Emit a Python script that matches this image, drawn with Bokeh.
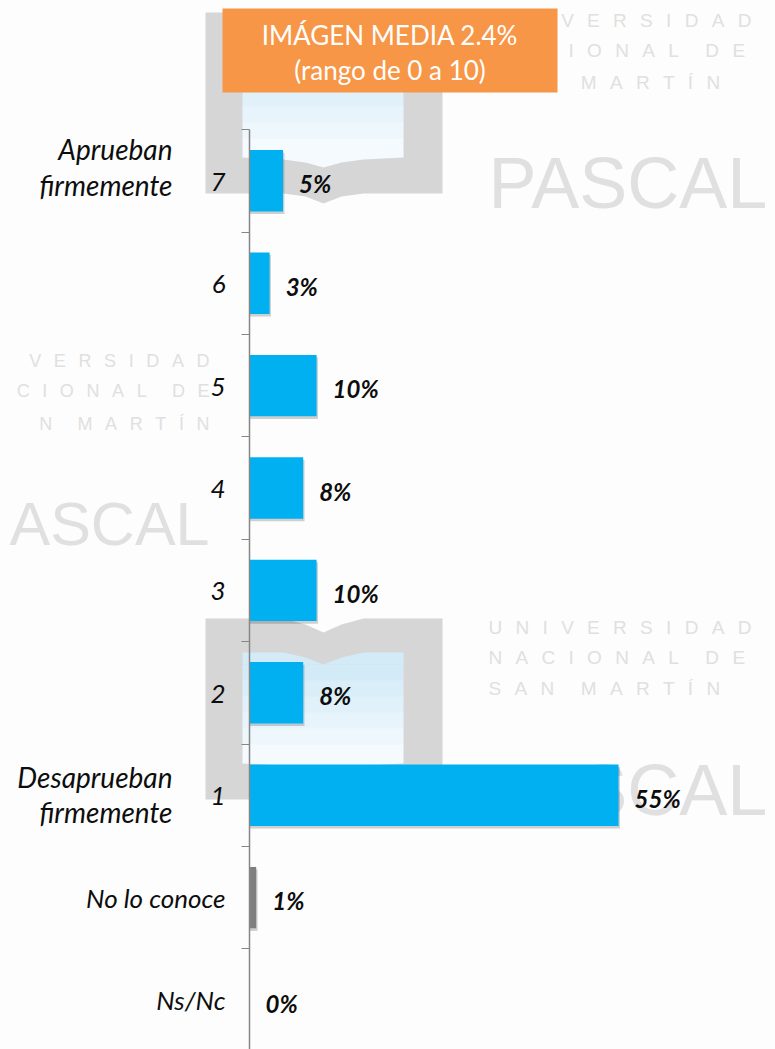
from bokeh.plotting import figure
from bokeh.models import Range1d, FixedTicker, ColumnDataSource
from bokeh.core.properties import value
from bokeh.embed import file_html
from bokeh.resources import INLINE

# ---- data (top to bottom) ----
categories = ["7", "6", "5", "4", "3", "2", "1", "No lo conoce", "Ns/Nc"]
values = [5, 3, 10, 8, 10, 8, 55, 1, 0]
labels = ["5%", "3%", "10%", "8%", "10%", "8%", "55%", "1%", "0%"]
bar_colors = ["#00B0F0"] * 7 + ["#7F7F7F", "#7F7F7F"]
side_labels = [["Aprueban", "firmemente"], ["Desaprueban", "firmemente"]]
side_index = [0, 6]
header = ["IMÁGEN MEDIA 2.4%", "(rango de 0 a 10)"]
wm_full = ["UNIVERSIDAD", "NACIONAL DE", "SAN MARTÍN"]
wm_cut = ["VERSIDAD", "CIONAL DE", "N MARTÍN"]

PXW, PXH = 775, 1049
X0, PX_PER_PCT = 249.0, 6.71
Y0, PX_PER_CAT = 999.5, 102.4
fx = lambda px: (px - X0) / PX_PER_PCT
fy = lambda py: (Y0 - py) / PX_PER_CAT
GAP = "\u2002\u2009"
spaced = lambda s: (GAP * 2).join(GAP.join(w) for w in s.split(" "))

n = len(categories)
pos = [n - 1 - i for i in range(n)]

p = figure(width=PXW, height=PXH, output_backend="svg", toolbar_location=None,
           x_range=Range1d(fx(0), fx(775)), y_range=Range1d(fy(1049), fy(0)),
           min_border=0, outline_line_color=None, background_fill_color="#FDFDFD",
           border_fill_color="#FDFDFD")
p.grid.visible = False
p.xaxis.visible = False

# ---- watermarks ----
WM = "#D6D6D6"
WMT = "#E0E0E0"
SHADES = ["#D3EBF7", "#D9EEF8", "#E0F1F9", "#E8F4FB", "#EEF7FC", "#F4FAFD"]
def under_patch(ox, oy, xs, ys, color):
    p.patch([fx(ox + a) for a in xs], [fy(oy + b) for b in ys], fill_color=color, line_color=None, level="underlay")

def logo(ox, oy):
    under_patch(ox, oy,
                [0, 78, 100, 118, 136, 158, 237, 237, 158, 136, 118, 100, 78, 0],
                [0, 0, 6, 14, 6, 0, 0, 181, 181, 184, 191, 184, 181, 181], WM)
    top, bottom = 46, 142
    under_patch(ox, oy, [37, 78, 100, 118, 136, 158, 198, 198, 37], [34, 34, 39, 46, 39, 34, 34, top, top], SHADES[0])
    h = (bottom - top) / len(SHADES)
    for i, c in enumerate(SHADES):
        p.quad(left=[fx(ox + 37)], right=[fx(ox + 198)], top=[fy(oy + top + i * h)],
               bottom=[fy(oy + top + (i + 1) * h + 1)], fill_color=c, line_color=None, level="underlay")
    under_patch(ox, oy, [37, 198, 198, 158, 136, 118, 100, 78, 37],
                [bottom, bottom, 145, 147, 150, 155, 150, 147, 145], SHADES[-1])

def wm_text(x, ys, lines, line_size, base, name, size, align):
    p.text([fx(x)] * 3, [fy(v) for v in ys], text=[spaced(s) for s in lines],
           text_font=value("Liberation Sans"), text_font_size=line_size, text_color=WMT,
           text_baseline="middle", text_align=align, level="underlay")
    p.text([fx(x)], [fy(base)], text=[name], text_font=value("Liberation Sans"),
           text_font_size=size, text_color=WMT, text_baseline="alphabetic", text_align=align, level="underlay")

logo(205, 12)
logo(205, 618)
wm_text(488, (20, 50, 82), wm_full, "19px", 182, "PASCAL", "72px", "left")
wm_text(488, (627, 657, 688), wm_full, "19px", 789, "PASCAL", "72px", "left")
wm_text(209, (360, 390, 423), wm_cut, "18px", 523, "ASCAL", "61px", "right")

# ---- header ----
p.quad(left=[fx(222)], right=[fx(557)], top=[fy(8)], bottom=[fy(92)], fill_color="#F79646", line_color=None)
p.text([fx(389.5)] * 2, [fy(34), fy(69)], text=header, text_font=value("Lato"), text_font_size="26px",
       text_color="#FFFFFF", text_align="center", text_baseline="middle")

# ---- bars ----
src = ColumnDataSource(dict(y=pos, v=values, c=bar_colors, lab=labels))
shadow = ColumnDataSource(dict(y=[a - 0.025 for a in pos], v=[v + 0.2 if v else 0 for v in values]))
p.hbar(y="y", right="v", left=0, height=0.6, source=shadow, fill_color="#000000", fill_alpha=0.18, line_color=None)
p.hbar(y="y", right="v", left=0, height=0.6, source=src, fill_color="c", line_color=None)
p.text(x="v", y="y", text="lab", source=src, x_offset=16, y_offset=3, text_font=value("Lato"),
       text_font_style="bold italic", text_font_size="24px", text_color="#0D0D0D", text_baseline="middle")

# ---- side captions ----
for lines, idx, d1, d2 in zip(side_labels, side_index, (32, 18), (-4, -17)):
    for line, d in zip(lines, (d1, d2)):
        p.text([fx(172)], [pos[idx] + d / PX_PER_CAT], text=[line], text_font=value("Lato"),
               text_font_style="italic", text_font_size="28px", text_color="#0D0D0D",
               text_align="right", text_baseline="middle")

# ---- axis ----
ax = p.yaxis[0]
ax.fixed_location = 0
ax.bounds = (fy(1049), fy(129))
ax.ticker = FixedTicker(ticks=pos, minor_ticks=[a + 0.5 for a in pos])
ax.major_label_overrides = {a: c for a, c in zip(pos, categories)}
ax.major_tick_line_color = None
ax.major_tick_in = 0
ax.major_tick_out = 0
ax.minor_tick_in = 0
ax.minor_tick_out = 8
ax.minor_tick_line_color = "#868686"
ax.axis_line_color = "#868686"
ax.axis_line_width = 1.5
ax.major_label_standoff = 16
ax.major_label_text_font = "Lato"
ax.major_label_text_font_style = "italic"
ax.major_label_text_font_size = "26px"
ax.major_label_text_color = "#0D0D0D"

open("out.html", "w").write(file_html(p, INLINE))
